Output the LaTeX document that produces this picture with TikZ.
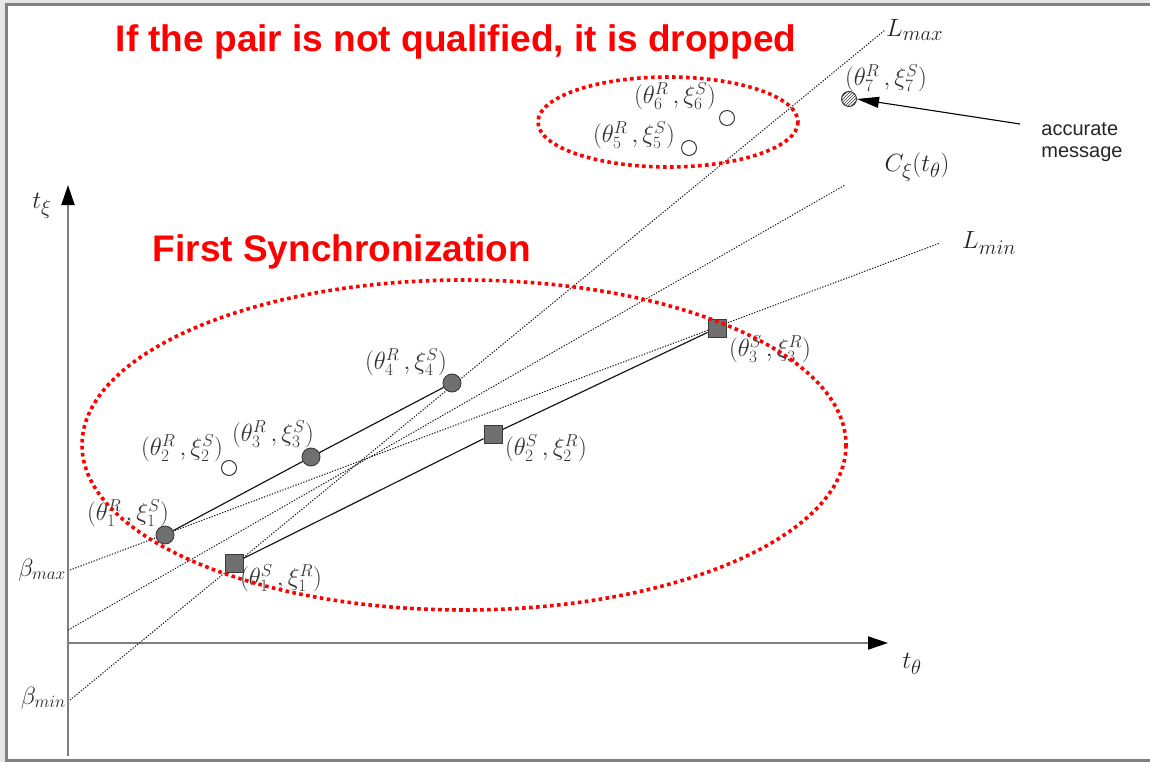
\documentclass[tikz,border=0pt]{standalone}
\usepackage{fontspec}
\setsansfont{Liberation Sans}
\usetikzlibrary{arrows.meta,patterns}
\definecolor{framegray}{HTML}{808080}
\definecolor{bggray}{HTML}{E6E6E6}
\definecolor{markgray}{HTML}{707070}
\definecolor{markedge}{HTML}{3A3A3A}
\definecolor{axisgray}{HTML}{7F7F7F}
\begin{document}
\begin{tikzpicture}[x=1pt,y=-1pt,
  fullpt/.style={circle,draw=markedge,fill=markgray,line width=0.9pt,minimum width=18pt,minimum height=15pt,inner sep=0pt},
  openpt/.style={circle,draw=markedge,fill=white,line width=1pt,minimum size=15pt,inner sep=0pt},
  hatchpt/.style={circle,draw=markedge,pattern=north east lines,pattern color=markedge,line width=1pt,minimum size=15pt,inner sep=0pt},
  sqpt/.style={rectangle,draw=markedge,fill=markgray,line width=0.9pt,minimum size=18pt,inner sep=0pt},
  lbl/.style={inner sep=0pt,text=black!80,font=\fontsize{23}{26}\selectfont},
  axlbl/.style={inner sep=0pt,text=black!85,font=\fontsize{28}{32}\selectfont},
  blbl/.style={inner sep=0pt,text=black!85,font=\fontsize{25}{28}\selectfont},
  guide/.style={black!90,line width=1pt,dash pattern=on 1.3pt off 1.5pt},
  pair/.style={black!90,line width=1.2pt},
  axis/.style={axisgray,line width=2pt},
  axtip/.style={-{Triangle[length=20pt,width=13pt,black]}},
  redring/.style={red,line width=3.6pt,dash pattern=on 3.6pt off 3.4pt},
  redtitle/.style={red,inner sep=0pt,font=\sffamily\bfseries\fontsize{37}{40}\selectfont}
]
\useasboundingbox (0,0) rectangle (1150,762);
% page frame
\fill[bggray] (0,0) rectangle (1150,762);
\fill[white] (6,3) rectangle (1150,761);
\draw[framegray,line width=3pt] (6.5,762) -- (6.5,4.5) -- (1150,4.5);
\draw[framegray,line width=2.5pt] (6,760.5) -- (1150,760.5);

% axes
\coordinate (origin) at (68,643);
\coordinate (ybot) at (68,756);
\coordinate (ytip) at (68,185);
\coordinate (xtip) at (888,643);
\draw[axis,axtip] (ybot) -- (ytip);
\draw[axis,axtip] (origin) -- (xtip);
\node[axlbl] (tx) at (42,206) {$t_\xi$};
\node[axlbl] (tt) at (912,664) {$t_\theta$};
\node[blbl,anchor=east] (bmaxl) at (66,570) {$\beta_{max}$};
\node[blbl,anchor=east] (bminl) at (66,698) {$\beta_{min}$};

% guide lines
\coordinate (bmax) at (70,570);
\coordinate (bmin) at (70,700);
\coordinate (cst) at (68,630);
\coordinate (lminend) at (940,243);
\coordinate (lmaxend) at (885,30);
\coordinate (cend) at (845,185);
\draw[guide] (bmax) -- (lminend);
\draw[guide] (bmin) -- (lmaxend);
\draw[guide] (cst) -- (cend);
\node[axlbl,anchor=west] (lmaxl) at (886,30) {$L_{max}$};
\node[axlbl,anchor=west] (lminl) at (962,243) {$L_{min}$};
\node[axlbl] (cl) at (917,167) {$C_\xi(t_\theta)$};

% data points
\node[fullpt] (r1) at (165,535) {};
\node[openpt] (r2) at (229,468) {};
\node[fullpt] (r3) at (311,457) {};
\node[fullpt] (r4) at (452,383) {};
\node[openpt] (r5) at (689,148) {};
\node[openpt] (r6) at (727,118) {};
\node[hatchpt] (r7) at (849,99) {};
\node[sqpt] (s1) at (234,563) {};
\node[sqpt] (s2) at (493,434) {};
\node[sqpt] (s3) at (717,328) {};
\draw[pair] (r1) -- (r3) -- (r4);
\draw[pair] (s1) -- (s2) -- (s3);

% labels
\node[lbl] (l1) at (128,513) {$(\theta_1^R\,,\xi_1^S)$};
\node[lbl] (l2) at (182,448) {$(\theta_2^R\,,\xi_2^S)$};
\node[lbl] (l3) at (273,434) {$(\theta_3^R\,,\xi_3^S)$};
\node[lbl] (l4) at (406,362) {$(\theta_4^R\,,\xi_4^S)$};
\node[lbl] (l5) at (634,135) {$(\theta_5^R\,,\xi_5^S)$};
\node[lbl] (l6) at (675,96) {$(\theta_6^R\,,\xi_6^S)$};
\node[lbl] (l7) at (886,78) {$(\theta_7^R\,,\xi_7^S)$};
\node[lbl] (m1) at (281,578) {$(\theta_1^S\,,\xi_1^R)$};
\node[lbl] (m2) at (546,448) {$(\theta_2^S\,,\xi_2^R)$};
\node[lbl] (m3) at (770,349) {$(\theta_3^S\,,\xi_3^R)$};

% accurate message
\node[inner sep=0pt,align=left,text=black!85,font=\sffamily\fontsize{20}{21.5}\selectfont] (acc) at (1082,142) {accurate\\message};
\coordinate (accstart) at (1020,124);
\draw[black,line width=1.1pt,-{Triangle[length=22pt,width=11pt]}] (accstart) -- (r7.east);

% red rings
\draw[redring] (464,445) ellipse [x radius=382, y radius=165];
\draw[redring] (668,122) ellipse [x radius=130, y radius=45];

% titles
\node[redtitle] (t1) at (456,42) {If the pair is not qualified, it is dropped};
\node[redtitle] (t2) at (342,252) {First Synchronization};
\end{tikzpicture}
\end{document}
